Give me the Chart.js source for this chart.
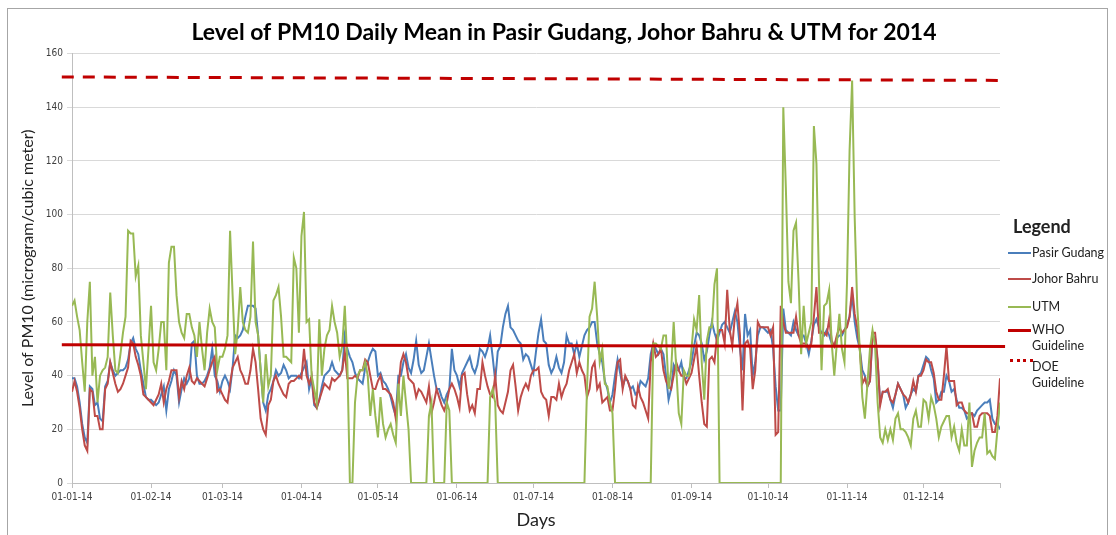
<!DOCTYPE html>
<html>
<head>
<meta charset="utf-8">
<script src="https://cdn.jsdelivr.net/npm/chart.js@4.4.1/dist/chart.umd.min.js"></script>
<style>
  html, body { margin: 0; padding: 0; background: #fff; }
  #wrap { position: relative; width: 1116px; height: 535px; overflow: hidden; background: #fff; }
  #frame { position: absolute; left: 7px; top: 8px; width: 1101px; height: 600px; border: 1px solid #a6a6a6; box-sizing: border-box; }
  #chart { position: absolute; left: 0; top: 0; }
  .lg { position: absolute; font-family: Lato, sans-serif; color: #222; white-space: nowrap; }
  .lgTitle { font-weight: bold; font-size: 18px; }
  .lgText { font-size: 12.5px; line-height: 16px; }
  .lgLine { position: absolute; width: 23px; }
</style>
</head>
<body>
<div id="wrap">
  <div id="frame"></div>
  <canvas id="chart" width="1116" height="535"></canvas>
  <div id="legend"></div>
</div>
<script>
// Daily PM10 means, 1 Jan 2014 .. 31 Dec 2014 (day index 0..364)
const pasirGudang = [
  39,39,36,30,22,17,15,36,35,29, 30,24,23,36,38,45,42,40,41,42,
  42,43,46,52,54,50,48,42,37,32, 31,31,30,29,30,33,36,27,35,38,
  42,40,30,35,39,37,39,52,53,40, 37,37,38,40,43,50,40,38,34,38,
  40,38,35,43,55,54,55,57,62,66, 66,66,65,55,42,30,27,33,35,38,
  42,40,41,44,42,39,40,40,40,39, 41,43,45,35,39,29,28,31,36,40,
  41,42,45,42,41,40,42,55,50,47, 45,41,39,38,37,43,45,48,50,49,
  40,41,38,37,35,32,28,25,40,40, 45,48,43,41,46,53,44,41,42,47,
  52,46,40,35,35,32,30,33,35,50, 42,40,36,41,43,45,47,43,41,44,
  50,49,47,50,55,47,38,49,51,58, 63,66,58,57,55,53,52,46,48,47,
  44,41,49,56,61,53,52,44,41,43, 47,43,41,45,55,52,52,48,52,47,
  51,55,57,58,60,60,52,48,45,38, 35,30,33,40,46,41,36,39,38,35,
  36,33,34,38,37,36,39,48,52,50, 48,50,48,40,31,35,44,42,42,45,
  39,39,42,45,51,56,55,52,46,49, 55,60,56,53,56,59,60,58,56,60,
  64,60,50,42,63,55,57,40,45,55, 58,58,57,56,57,50,36,27,27,65,
  57,56,55,60,57,55,55,55,52,48, 53,59,61,58,56,55,57,55,52,51,
  54,55,55,57,59,62,70,60,54,50, 42,40,36,38,55,54,45,30,34,34,
  34,31,28,33,37,35,33,28,30,33, 35,34,40,41,44,47,46,42,39,30,
  31,34,34,40,38,34,35,31,28,28, 27,24,25,26,25,27,28,29,30,30,
  31,24,22,22,20
];
const johorBahru = [
  34,38,34,28,20,14,12,35,34,25, 25,20,20,35,37,45,41,37,34,35,
  37,40,43,53,52,47,44,40,33,32, 31,30,29,31,33,37,30,35,38,42,
  42,42,32,38,35,40,43,38,37,39, 38,37,36,39,42,45,47,34,35,33,
  31,30,37,43,45,47,42,40,37,37, 42,50,45,35,24,20,18,29,31,38,
  40,37,35,33,32,37,38,38,39,40, 39,50,40,37,40,30,28,31,34,37,
  36,35,39,38,39,40,42,49,39,39, 39,40,39,42,42,46,45,40,35,35,
  38,40,35,35,34,33,30,24,35,45, 48,45,39,38,37,32,35,34,32,30,
  36,26,30,35,32,29,27,30,35,37, 35,32,28,40,41,33,27,29,26,35,
  35,45,40,36,33,32,40,29,27,26, 30,34,42,44,36,27,32,35,37,35,
  40,42,42,43,34,32,31,25,32,32, 31,37,32,35,37,42,45,48,41,45,
  42,40,32,35,43,45,35,37,30,31, 32,27,27,35,45,46,35,40,38,35,
  29,28,36,32,30,27,24,45,52,47, 48,50,42,38,36,35,40,45,42,40,
  40,37,39,41,46,51,40,30,22,21, 46,47,45,55,57,57,52,72,57,51,
  62,67,55,27,52,53,50,35,42,60, 58,58,58,58,55,58,18,19,66,60,
  56,56,56,56,62,55,52,52,52,50, 52,62,73,56,56,56,55,61,53,51,
  55,58,56,57,58,62,73,63,58,50, 37,39,36,38,56,56,46,29,34,34,
  35,31,30,33,37,35,33,32,30,33, 38,34,40,40,42,46,45,45,41,34,
  31,31,40,51,38,38,38,29,30,30, 27,26,26,26,21,21,25,26,26,26,
  25,19,19,25,39
];
const utm = [
  66,68,62,57,45,34,60,75,40,47, 30,40,42,43,47,71,55,42,41,48,
  56,62,94,93,93,77,81,55,45,35, 50,66,45,42,50,60,60,42,82,88,
  88,70,60,56,54,63,63,58,55,47, 60,50,42,56,65,60,58,42,47,47,
  50,55,94,70,48,57,73,60,57,56, 62,90,60,55,42,30,48,36,40,68,
  70,73,62,47,47,46,45,84,80,56, 92,101,60,61,40,35,30,61,40,50,
  55,57,66,60,56,47,51,66,45,0, 0,30,40,42,42,45,40,25,35,25,
  17,32,22,17,20,22,18,15,37,25, 40,30,20,0,0,0,0,0,0,0,
  25,30,0,0,0,0,0,30,27,0, 0,0,0,0,0,0,0,0,0,0,
  0,0,0,0,32,35,30,0,0,0, 0,0,0,0,0,0,0,0,0,0,
  0,0,0,0,0,0,0,0,0,0, 0,0,0,0,0,0,0,0,0,0,
  0,0,35,62,65,75,62,45,50,37, 36,30,26,0,0,0,0,0,0,0,
  0,0,0,0,0,0,0,0,52,52, 51,50,55,55,35,42,60,43,26,22,
  42,40,40,50,61,57,70,45,31,53, 58,58,74,80,0,0,0,0,0,0,
  0,0,0,0,0,0,0,0,0,0, 0,0,0,0,0,0,0,0,0,140,
  110,75,67,94,97,75,48,66,52,56, 60,133,119,75,42,66,67,72,52,40,
  52,63,50,45,75,124,150,99,66,50, 32,24,37,50,57,51,30,17,15,20,
  16,20,16,24,26,20,20,19,17,14, 24,27,21,21,31,30,24,32,29,24,
  17,21,23,25,25,17,21,15,12,20, 14,14,30,6,12,15,17,17,26,11,
  12,10,9,20,30
];

// guideline shapes (drawn a little past both ends of the axis, as in the original)
const guideDays = [-4, 366];
const whoGuideline = [51.5, 50.9];
const doeGuideline = [151.3, 150.0];

const monthStartDays = [0, 31, 59, 90, 120, 151, 181, 212, 243, 273, 304, 334];
const monthLabels = ['01-01-14','01-02-14','01-03-14','01-04-14','01-05-14','01-06-14',
                     '01-07-14','01-08-14','01-09-14','01-10-14','01-11-14','01-12-14'];

const seriesNames = ['Pasir Gudang', 'Johor Bahru', 'UTM'];
const seriesColors = ['#4a7ebb', '#be4b48', '#98b954'];
const guideColor = '#c00000';

const toPoints = arr => arr.map((v, i) => ({ x: i, y: v }));
const guidePoints = arr => arr.map((v, i) => ({ x: guideDays[i], y: v }));

const lineBase = { pointRadius: 0, borderWidth: 2, tension: 0, fill: false };

const datasets = [
  { ...lineBase, label: seriesNames[0], data: toPoints(pasirGudang), borderColor: seriesColors[0], order: 3 },
  { ...lineBase, label: seriesNames[1], data: toPoints(johorBahru), borderColor: seriesColors[1], order: 2 },
  { ...lineBase, label: seriesNames[2], data: toPoints(utm), borderColor: seriesColors[2], order: 1 },
  { ...lineBase, label: 'WHO Guideline', data: guidePoints(whoGuideline), borderColor: guideColor, borderWidth: 3, clip: false, order: 0 },
  { ...lineBase, label: 'DOE Guideline', data: guidePoints(doeGuideline), borderColor: guideColor, borderWidth: 3, borderDash: [12, 9], clip: false, order: 0 }
];

const tickFont = { family: "'Liberation Sans Narrow', 'DejaVu Sans Condensed', sans-serif", size: 10 };

new Chart(document.getElementById('chart'), {
  type: 'line',
  data: { datasets },
  options: {
    responsive: false,
    animation: false,
    events: [],
    layout: { padding: { left: 12, right: 0, top: 0, bottom: 0 } },
    plugins: {
      legend: { display: false },
      tooltip: { enabled: false },
      title: {
        display: true,
        text: 'Level of PM10 Daily Mean in Pasir Gudang, Johor Bahru & UTM for 2014',
        font: { family: 'Lato', size: 23, weight: 'bold' },
        color: '#000',
        padding: { top: 19, bottom: 7 }
      }
    },
    scales: {
      x: {
        type: 'linear',
        min: 0,
        max: 364,
        afterBuildTicks: s => { s.ticks = monthStartDays.concat([364]).map(v => ({ value: v })); },
        afterFit: s => { s.height = 52; },
        ticks: {
          autoSkip: false,
          maxRotation: 0,
          padding: 3,
          font: tickFont,
          color: '#404040',
          callback: v => {
            const i = monthStartDays.indexOf(v);
            return i >= 0 ? monthLabels[i] : '';
          }
        },
        grid: { drawOnChartArea: false, tickLength: 5, color: '#bfbfbf' },
        border: { color: '#bfbfbf' },
        title: { display: true, text: 'Days', font: { family: 'Lato', size: 18 }, color: '#222', padding: { top: 0, bottom: 4 } }
      },
      y: {
        min: 0,
        max: 160,
        afterFit: s => { s.width = 60; },
        ticks: { stepSize: 20, padding: 4, font: tickFont, color: '#404040' },
        grid: { color: '#d9d9d9', tickLength: 5 },
        border: { color: '#bfbfbf' },
        title: { display: true, text: 'Level of PM10 (microgram/cubic meter)', font: { family: 'Lato', size: 16 }, color: '#222', padding: { top: 6, bottom: 0 } }
      },
      yR: {
        position: 'right',
        afterFit: s => { s.width = 116; },
        ticks: { display: false },
        grid: { display: false },
        border: { display: false }
      }
    }
  }
});

// legend box on the right
const legend = document.getElementById('legend');
function addText(txt, x, yc, cls) {
  const d = document.createElement('div');
  d.className = 'lg ' + cls;
  d.textContent = txt;
  d.style.left = x + 'px';
  d.style.top = (yc - (cls === 'lgTitle' ? 12 : 8)) + 'px';
  legend.appendChild(d);
}
function addLine(x, yc, color, width, style) {
  const d = document.createElement('div');
  d.className = 'lgLine';
  d.style.left = x + 'px';
  d.style.top = (yc - Math.floor(width / 2)) + 'px';
  d.style.borderTop = width + 'px ' + style + ' ' + color;
  legend.appendChild(d);
}
addText('Legend', 1013, 227, 'lgTitle');
const itemY = [253, 279, 307];
seriesNames.forEach((n, i) => {
  addLine(1008, itemY[i], seriesColors[i], 2, 'solid');
  addText(n, 1032, itemY[i], 'lgText');
});
addLine(1008, 330, guideColor, 3, 'solid');
addText('WHO', 1032, 330, 'lgText');
addText('Guideline', 1032, 346, 'lgText');
addLine(1010, 360, guideColor, 3, 'dotted');
addText('DOE', 1032, 367, 'lgText');
addText('Guideline', 1032, 383, 'lgText');
</script>
</body>
</html>
